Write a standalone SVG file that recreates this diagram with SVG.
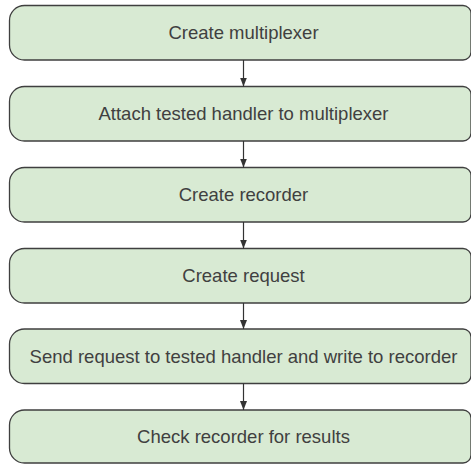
<svg xmlns="http://www.w3.org/2000/svg" width="471" height="464" viewBox="0 0 471 464">
<style>
.box{fill:#d8ead3;stroke:#3f3f3f;stroke-width:1.3}
.lbl{font-family:"Liberation Sans",Arial,sans-serif;font-size:18.5px;fill:#404040;text-anchor:middle}
.con{stroke:#333;stroke-width:1.2;fill:none}
</style>
<defs>
<marker id="ah" viewBox="0 0 10 10" refX="10" refY="5" markerWidth="9" markerHeight="7" markerUnits="userSpaceOnUse" orient="auto-start-reverse" preserveAspectRatio="none">
<path d="M0,0 L10,5 L0,10 Z" fill="#333"/>
</marker>
</defs>
<rect width="471" height="464" fill="#fff"/>
<g id="n1"><path class="box" d="M24.5,5.5 H463 A8,8 0 0 1 471,13.5 V52 A8,8 0 0 1 463,60 H24.5 A15,15 0 0 1 9.5,45 V20.5 A15,15 0 0 1 24.5,5.5 Z"/><text class="lbl" x="243.5" y="39.3">Create multiplexer</text></g>
<g id="n2"><path class="box" d="M24.5,86.5 H463 A8,8 0 0 1 471,94.5 V133 A8,8 0 0 1 463,141 H24.5 A15,15 0 0 1 9.5,126 V101.5 A15,15 0 0 1 24.5,86.5 Z"/><text class="lbl" x="243.5" y="120.3">Attach tested handler to multiplexer</text></g>
<g id="n3"><path class="box" d="M24.5,167.5 H463 A8,8 0 0 1 471,175.5 V214 A8,8 0 0 1 463,222 H24.5 A15,15 0 0 1 9.5,207 V182.5 A15,15 0 0 1 24.5,167.5 Z"/><text class="lbl" x="243.5" y="201.3">Create recorder</text></g>
<g id="n4"><path class="box" d="M24.5,248.5 H463 A8,8 0 0 1 471,256.5 V295 A8,8 0 0 1 463,303 H24.5 A15,15 0 0 1 9.5,288 V263.5 A15,15 0 0 1 24.5,248.5 Z"/><text class="lbl" x="243.5" y="282.3">Create request</text></g>
<g id="n5"><path class="box" d="M24.5,329 H463 A8,8 0 0 1 471,337 V375.5 A8,8 0 0 1 463,383.5 H24.5 A15,15 0 0 1 9.5,368.5 V344 A15,15 0 0 1 24.5,329 Z"/><text class="lbl" x="243.5" y="362.8">Send request to tested handler and write to recorder</text></g>
<g id="n6"><path class="box" d="M24.5,410 H463 A8,8 0 0 1 471,418 V455 A8,8 0 0 1 463,463 H24.5 A15,15 0 0 1 9.5,448 V425 A15,15 0 0 1 24.5,410 Z"/><text class="lbl" x="243.5" y="443">Check recorder for results</text></g>
<g id="connectors">
<line class="con" x1="243.5" y1="60" x2="243.5" y2="86.5" marker-end="url(#ah)"/>
<line class="con" x1="243.5" y1="141" x2="243.5" y2="167.5" marker-end="url(#ah)"/>
<line class="con" x1="243.5" y1="222" x2="243.5" y2="248.5" marker-end="url(#ah)"/>
<line class="con" x1="243.5" y1="303" x2="243.5" y2="329" marker-end="url(#ah)"/>
<line class="con" x1="243.5" y1="383.5" x2="243.5" y2="410" marker-end="url(#ah)"/>
</g>
</svg>
